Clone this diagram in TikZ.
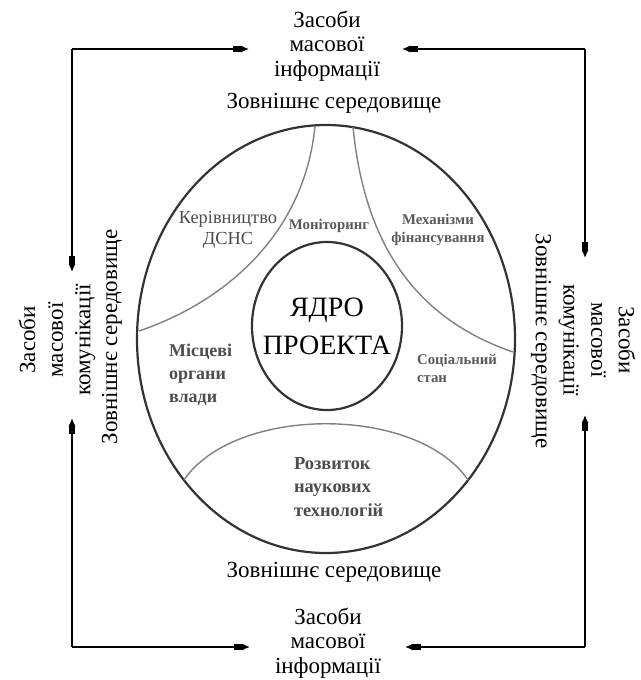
\documentclass[tikz,border=0pt]{standalone}
\usepackage{fontspec}
\setmainfont{Liberation Serif}
\usetikzlibrary{arrows.meta,
                shapes.geometric}

\tikzset{
    media/.style = {align=center, font=\fontsize{11.5}{12.2}\selectfont},
    sidemedia/.style = {align=center, font=\fontsize{11.5}{13.8}\selectfont},
    envtext/.style = {font=\fontsize{11.5}{13.5}\selectfont},
    part/.style = {align=left, text=black!70, font=\fontsize{9.2}{10.5}\selectfont},
    smallpart/.style = {align=left, text=black!65, font=\fontsize{7.4}{9}\selectfont\bfseries},
    arr/.style = {line width=0.8pt, -{Rectangle[length=4pt,width=3.2pt]Latex[length=4pt,width=3.6pt]}},
    border/.style = {gray, line width=0.7pt},
}

\begin{document}
\begin{tikzpicture}%
            [x=0.5pt, y=-0.5pt]
            \useasboundingbox (0,0) rectangle (641,680);

            % outer ring and the core
            \draw [black!80, line width=1.1pt] (326,339) ellipse [x radius=94.5pt, y radius=107pt];
            \node [draw, black!80, line width=1.1pt, ellipse, inner sep=0pt,
                   minimum width=75pt, minimum height=84pt] (core) at (327,326) {};
            \node [font=\fontsize{14}{19}\selectfont, align=center] (coretext) at (core.center) {ЯДРО\\ПРОЕКТА};

            % borders between the parts
            \draw [border] (315,126) .. controls (305,230) and (230,300) .. (139,331);
            \draw [border] (353,127) .. controls (365,250) and (420,320) .. (513,352);
            \draw [border] (184,480) .. controls (235,405) and (417,405) .. (468,480);

            % parts
            \node [part, align=center] (kerivn) at (228,230) {Керівництво\\ДСНС};
            \node [smallpart] (monitor) at (329,226) {Моніторинг};
            \node [smallpart, align=center] (mekhan) at (438,230) {Механізми\\фінансування};
            \node [part, font=\fontsize{9}{11.5}\selectfont\bfseries, anchor=west] (mistsevi) at (162,375) {Місцеві\\органи\\влади};
            \node [smallpart, anchor=west] (sotsial) at (410,368) {Соціальний\\стан};
            \node [part, font=\fontsize{9.2}{11.8}\selectfont\bfseries, anchor=west] (rozvytok) at (287,487) {Розвиток\\наукових\\технологій};

            % environment
            \node [envtext] (topenv) at (334,103) {Зовнішнє середовище};
            \node [envtext] (botenv) at (334,572) {Зовнішнє середовище};
            \node [envtext, rotate=90] (leftenv) at (112,337) {Зовнішнє середовище};
            \node [envtext, rotate=-90] (rightenv) at (541,341) {Зовнішнє середовище};

            % media
            \node [media] (topmedia) at (327,46) {Засоби\\масової\\інформації};
            \node [media] (botmedia) at (328,643) {Засоби\\масової\\інформації};
            \node [sidemedia, rotate=90] (leftmedia) at (57,340) {Засоби\\масової\\комунікації};
            \node [sidemedia, rotate=-90] (rightmedia) at (597,340) {Засоби\\масової\\комунікації};

            % corners and arrow ends
            \coordinate (tl) at (72,49);
            \coordinate (tr) at (585,49);
            \coordinate (bl) at (72,647);
            \coordinate (br) at (585,647);
            \coordinate (tlA) at (249,49);
            \coordinate (trA) at (402,49);
            \coordinate (blA) at (250,647);
            \coordinate (brA) at (405,647);
            \coordinate (ltA) at (72,272);
            \coordinate (lbA) at (72,418);
            \coordinate (rtA) at (585,258);
            \coordinate (rbA) at (585,415);

            \draw (tl) edge [arr] (tlA) edge [arr] (ltA);
            \draw (tr) edge [arr] (trA) edge [arr] (rtA);
            \draw (bl) edge [arr] (blA) edge [arr] (lbA);
            \draw (br) edge [arr] (brA) edge [arr] (rbA);

        \end{tikzpicture}
\end{document}
